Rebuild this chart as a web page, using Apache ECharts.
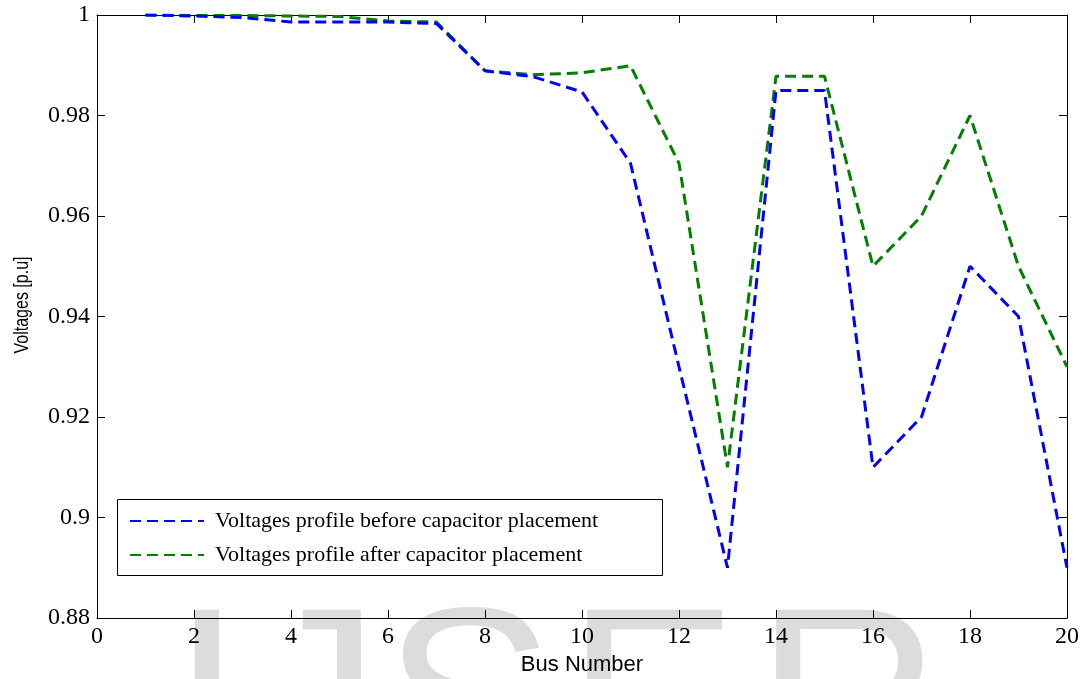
<!DOCTYPE html>
<html>
<head>
<meta charset="utf-8">
<script src="https://cdn.jsdelivr.net/npm/echarts@6/dist/echarts.min.js"></script>
<style>
	html, body { margin: 0; padding: 0; background: #ffffff; }
	#main { width: 1082px; height: 679px; }
</style>
</head>
<body>
<div id="main"></div>
<script>
	// bus numbers and voltage profiles (p.u)
	var buses = [1, 2, 3, 4, 5, 6, 7, 8, 9, 10, 11, 12, 13, 14, 15, 16, 17, 18, 19, 20];
	var before = [1.0, 0.9998, 0.9995, 0.9986, 0.9986, 0.9986, 0.9983, 0.9889, 0.9877, 0.9847,
		0.9705, 0.930, 0.890, 0.985, 0.985, 0.910, 0.920, 0.950, 0.940, 0.890];
	var after = [1.0, 0.9999, 0.9999, 0.9998, 0.9997, 0.9988, 0.9986, 0.9889, 0.9881, 0.9885,
		0.9899, 0.9705, 0.910, 0.9878, 0.9878, 0.950, 0.960, 0.980, 0.950, 0.930];
	var seriesNames = ['Voltages profile before capacitor placement', 'Voltages profile after capacitor placement'];

	// watermark letters
	var marks = ['I', 'J', 'S', 'E', 'R'];
	var markX = [171, 251, 383, 566, 755];

	function pairs(ys){
		var d = [];
		for(var i = 0; i < buses.length; i++){
			d.push([buses[i], ys[i]]);
		}
		return d;
	}

	var serif = 'Liberation Serif';
	var sans = 'Liberation Sans';

	var tickStyle = {
		show: true,
		inside: true,
		length: 8,
		lineStyle: { color: '#000', width: 1 }
	};
	var lineAx = { show: true, onZero: false, lineStyle: { color: '#000', width: 1 } };

	var chart = echarts.init(document.getElementById('main'));

	var gfx = [];
	for(var i = 0; i < marks.length; i++){
		gfx.push({
			type: 'text',
			z: -10,
			silent: true,
			left: markX[i],
			top: 587,
			style: {
				text: marks[i],
				font: '258px "Liberation Sans"',
				fill: '#dcdcdc'
			}
		});
	}
	//legend box
	gfx.push({
		type: 'rect',
		z: 9,
		shape: { x: 117.5, y: 499.5, width: 545, height: 76 },
		style: { fill: '#fff', stroke: '#000', lineWidth: 1 }
	});
	//y axis title, squeezed like the original
	gfx.push({
		type: 'text',
		x: 22,
		y: 305,
		rotation: Math.PI / 2,
		scaleX: 0.8,
		style: {
			text: 'Voltages [p.u]',
			font: '20px "Liberation Sans"',
			fill: '#000',
			align: 'center',
			verticalAlign: 'middle'
		}
	});

	var option = {
		backgroundColor: '#ffffff',
		animation: false,
		graphic: gfx,
		grid: { left: 97, right: 15, top: 15, bottom: 61, outerBoundsMode: 'none' },
		legend: {
			z: 10,
			orient: 'vertical',
			left: 117,
			top: 499,
			padding: [11, 0, 0, 12],
			itemGap: 12,
			itemWidth: 74,
			itemHeight: 14,
			itemStyle: { opacity: 0 },
			textStyle: { fontFamily: serif, fontSize: 22, color: '#000', padding: [0, 0, 0, 6] },
			data: seriesNames
		},
		xAxis: [{
			type: 'value',
			min: 0, max: 20, interval: 2,
			axisLine: lineAx,
			axisTick: tickStyle,
			splitLine: { show: false },
			axisLabel: { fontFamily: serif, fontSize: 24, color: '#000', margin: 7 },
			name: 'Bus Number',
			nameLocation: 'middle',
			nameGap: 35,
			nameTextStyle: { fontFamily: sans, fontSize: 22, color: '#000' }
		}, {
			type: 'value',
			position: 'top',
			min: 0, max: 20, interval: 2,
			axisLine: lineAx,
			axisTick: tickStyle,
			splitLine: { show: false },
			axisLabel: { show: false }
		}],
		yAxis: [{
			type: 'value',
			min: 0.88, max: 1, interval: 0.02,
			axisLine: lineAx,
			axisTick: tickStyle,
			splitLine: { show: false },
			axisLabel: {
				fontFamily: serif, fontSize: 24, color: '#000', margin: 7,
				formatter: function(v){ return String(parseFloat(v.toFixed(2))); }
			}
		}, {
			type: 'value',
			position: 'right',
			min: 0.88, max: 1, interval: 0.02,
			axisLine: lineAx,
			axisTick: tickStyle,
			splitLine: { show: false },
			axisLabel: { show: false }
		}],
		series: [{
			name: seriesNames[0],
			type: 'line',
			symbol: 'none',
			data: pairs(before),
			lineStyle: { color: '#0000ff', width: 3, type: [11, 6] },
			itemStyle: { color: '#0000ff' },
			z: 3
		}, {
			name: seriesNames[1],
			type: 'line',
			symbol: 'none',
			data: pairs(after),
			lineStyle: { color: '#008000', width: 3, type: [11, 6] },
			itemStyle: { color: '#008000' },
			z: 2
		}]
	};

	chart.setOption(option);
</script>
</body>
</html>
